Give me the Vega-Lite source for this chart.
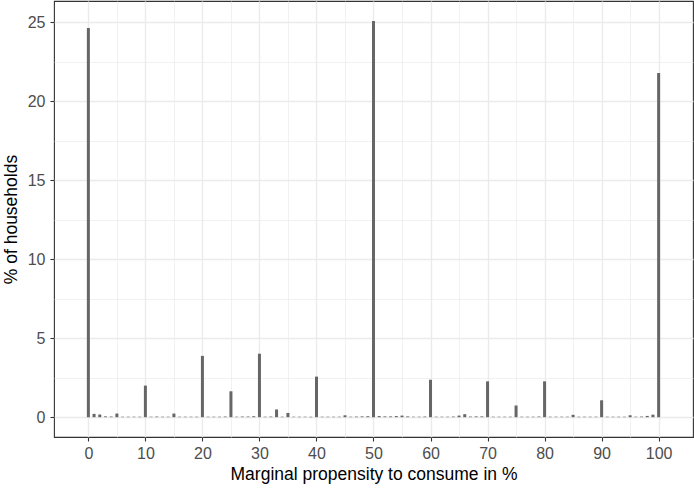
{
  "$schema": "https://vega.github.io/schema/vega-lite/v6.json",
  "width": 639,
  "height": 436,
  "padding": {"left": 54, "top": 1, "right": 1, "bottom": 52},
  "autosize": {"type": "none"},
  "background": "white",
  "config": {
    "font": "Liberation Sans",
    "view": {"stroke": "#333333", "strokeWidth": 1.1},
    "axis": {"domain": false, "grid": true, "gridColor": "#EBEBEB", "tickColor": "#333333", "tickSize": 4, "tickWidth": 1.1, "labelColor": "#4D4D4D", "labelFontSize": 16, "titleColor": "#000000", "titleFontSize": 17.5, "titleFontWeight": "normal"}
  },
  "data": {"values": [
    {"mpc":0,"pct":24.65},{"mpc":1,"pct":0.21},{"mpc":2,"pct":0.17},{"mpc":3,"pct":0.05},{"mpc":4,"pct":0.04},{"mpc":5,"pct":0.23},{"mpc":6,"pct":0.03},{"mpc":7,"pct":0.03},{"mpc":8,"pct":0.03},{"mpc":9,"pct":0.03},
    {"mpc":10,"pct":2.0},{"mpc":11,"pct":0.03},{"mpc":12,"pct":0.04},{"mpc":13,"pct":0.03},{"mpc":14,"pct":0.03},{"mpc":15,"pct":0.23},{"mpc":16,"pct":0.03},{"mpc":17,"pct":0.03},{"mpc":18,"pct":0.03},{"mpc":19,"pct":0.03},
    {"mpc":20,"pct":3.88},{"mpc":21,"pct":0.03},{"mpc":22,"pct":0.03},{"mpc":23,"pct":0.03},{"mpc":24,"pct":0.04},{"mpc":25,"pct":1.64},{"mpc":26,"pct":0.03},{"mpc":27,"pct":0.04},{"mpc":28,"pct":0.04},{"mpc":29,"pct":0.06},
    {"mpc":30,"pct":4.02},{"mpc":31,"pct":0.03},{"mpc":32,"pct":0.04},{"mpc":33,"pct":0.49},{"mpc":34,"pct":0.03},{"mpc":35,"pct":0.27},{"mpc":36,"pct":0.03},{"mpc":37,"pct":0.03},{"mpc":38,"pct":0.03},{"mpc":39,"pct":0.03},
    {"mpc":40,"pct":2.57},{"mpc":41,"pct":0.03},{"mpc":42,"pct":0.03},{"mpc":43,"pct":0.03},{"mpc":44,"pct":0.03},{"mpc":45,"pct":0.12},{"mpc":46,"pct":0.03},{"mpc":47,"pct":0.04},{"mpc":48,"pct":0.05},{"mpc":49,"pct":0.06},
    {"mpc":50,"pct":25.09},{"mpc":51,"pct":0.07},{"mpc":52,"pct":0.05},{"mpc":53,"pct":0.05},{"mpc":54,"pct":0.07},{"mpc":55,"pct":0.1},{"mpc":56,"pct":0.05},{"mpc":57,"pct":0.03},{"mpc":58,"pct":0.03},{"mpc":59,"pct":0.04},
    {"mpc":60,"pct":2.37},{"mpc":61,"pct":0.03},{"mpc":62,"pct":0.03},{"mpc":63,"pct":0.03},{"mpc":64,"pct":0.04},{"mpc":65,"pct":0.1},{"mpc":66,"pct":0.19},{"mpc":67,"pct":0.04},{"mpc":68,"pct":0.05},{"mpc":69,"pct":0.05},
    {"mpc":70,"pct":2.27},{"mpc":71,"pct":0.03},{"mpc":72,"pct":0.03},{"mpc":73,"pct":0.03},{"mpc":74,"pct":0.03},{"mpc":75,"pct":0.74},{"mpc":76,"pct":0.03},{"mpc":77,"pct":0.03},{"mpc":78,"pct":0.03},{"mpc":79,"pct":0.04},
    {"mpc":80,"pct":2.27},{"mpc":81,"pct":0.03},{"mpc":82,"pct":0.03},{"mpc":83,"pct":0.03},{"mpc":84,"pct":0.03},{"mpc":85,"pct":0.15},{"mpc":86,"pct":0.03},{"mpc":87,"pct":0.03},{"mpc":88,"pct":0.03},{"mpc":89,"pct":0.03},
    {"mpc":90,"pct":1.07},{"mpc":91,"pct":0.03},{"mpc":92,"pct":0.03},{"mpc":93,"pct":0.03},{"mpc":94,"pct":0.03},{"mpc":95,"pct":0.12},{"mpc":96,"pct":0.03},{"mpc":97,"pct":0.04},{"mpc":98,"pct":0.08},{"mpc":99,"pct":0.16},
    {"mpc":100,"pct":21.8}
  ]},
  "mark": {"type": "bar", "size": 3, "color": "#666666", "orient": "vertical"},
  "encoding": {
    "x": {
      "field": "mpc", "type": "quantitative",
      "scale": {"domain": [-5.15, 105.15], "nice": false, "zero": false},
      "axis": {
        "title": "Marginal propensity to consume in %",
        "values": [0,5,10,15,20,25,30,35,40,45,50,55,60,65,70,75,80,85,90,95,100],
        "labelExpr": "datum.value % 10 === 0 ? datum.label : ''",
        "tickOpacity": {"condition": {"test": "datum.value % 10 !== 0", "value": 0}, "value": 1},
        "gridWidth": {"condition": {"test": "datum.value % 10 !== 0", "value": 0.7}, "value": 1.4},
        "labelPadding": 4,
        "titlePadding": 4,
        "labelFlush": false
      }
    },
    "y": {
      "field": "pct", "type": "quantitative",
      "scale": {"domain": [-1.255, 26.355], "nice": false, "zero": false},
      "axis": {
        "title": "% of households",
        "values": [0,2.5,5,7.5,10,12.5,15,17.5,20,22.5,25],
        "labelExpr": "datum.value % 5 === 0 ? datum.label : ''",
        "tickOpacity": {"condition": {"test": "datum.value % 5 !== 0", "value": 0}, "value": 1},
        "gridWidth": {"condition": {"test": "datum.value % 5 !== 0", "value": 0.7}, "value": 1.4},
        "labelPadding": 5,
        "titlePadding": 7,
        "labelFlush": false
      }
    },
    "y2": {"datum": 0}
  }
}
